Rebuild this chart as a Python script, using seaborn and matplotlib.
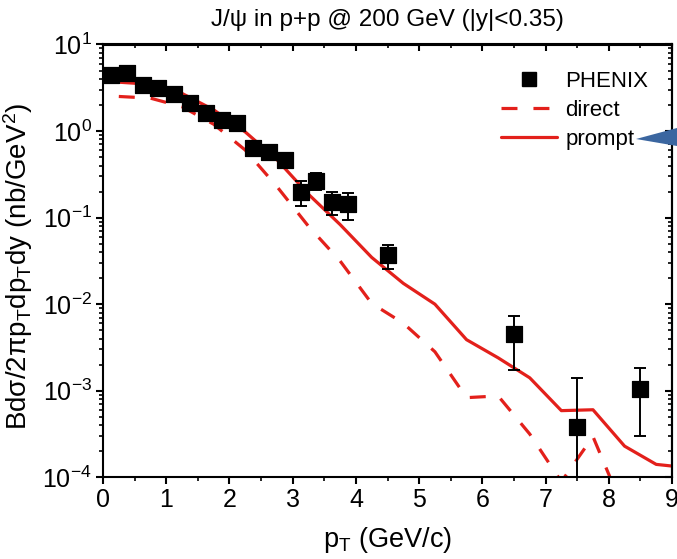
import numpy as np
import pandas as pd
import matplotlib
matplotlib.use("Agg")
import matplotlib.pyplot as plt
import seaborn as sns
from matplotlib.patches import Polygon
from matplotlib.lines import Line2D
from matplotlib.ticker import LogLocator, MultipleLocator, NullFormatter

# ---- data ----
pt_phenix = [0.125, 0.375, 0.625, 0.875, 1.125, 1.375, 1.625, 1.875, 2.125, 2.375,
             2.625, 2.875, 3.125, 3.375, 3.625, 3.875, 4.5, 6.5, 7.5, 8.5]
xs_phenix = [4.50, 4.66, 3.45, 3.17, 2.70, 2.13, 1.60, 1.36, 1.24, 0.632,
             0.578, 0.463, 0.200, 0.267, 0.153, 0.143, 0.0368, 0.00454, 3.86e-4, 1.06e-3]
err_phenix = [0.35, 0.35, 0.26, 0.24, 0.2, 0.16, 0.12, 0.1, 0.09, 0.05,
              0.045, 0.04, 0.064, 0.06, 0.047, 0.05, 0.0116, 0.0028, 1.01e-3, 0.76e-3]

pt_direct = [0.25, 0.75, 1.25, 1.75, 2.25, 2.75, 3.25, 3.75, 4.25, 4.75,
             5.25, 5.75, 6.25, 6.75, 7.25, 7.75, 8.25]
xs_direct = [2.51, 2.40, 1.91, 1.20, 0.603, 0.229, 0.0794, 0.0316, 0.0102, 0.00603,
             0.00282, 8.32e-4, 8.71e-4, 3.16e-4, 8.9e-5, 2.95e-4, 3.98e-5]

pt_prompt = [0.25, 0.75, 1.25, 1.75, 2.25, 2.75, 3.25, 3.75, 4.25, 4.75,
             5.25, 5.75, 6.25, 6.75, 7.25, 7.75, 8.25, 8.75, 9.25]
xs_prompt = [3.67, 3.47, 2.72, 1.76, 0.977, 0.468, 0.186, 0.0832, 0.0347, 0.0174,
             0.0100, 0.00389, 0.00240, 0.00141, 5.89e-4, 6.03e-4, 2.29e-4, 1.41e-4, 1.29e-4]

title = "J/\u03c8 in p+p @ 200 GeV (|y|<0.35)"
xlabel = "p$_T$ (GeV/c)"
ylabel = "Bd\u03c3/2\u03c0p$_T$dp$_T$dy (nb/GeV$^2$)"
legend_labels = ["PHENIX", "direct", "prompt"]

RED = "#e3201b"

sns.set_theme(style="ticks")
plt.rcParams['font.family'] = ['Liberation Sans', 'DejaVu Sans']
plt.rcParams['mathtext.default'] = 'regular'
for key in ["text.color", "axes.labelcolor", "xtick.color", "ytick.color",
            "axes.edgecolor"]:
    plt.rcParams[key] = "black"

W, H = 677, 559
fig = plt.figure(figsize=(W / 100, H / 100), dpi=100)
x0, x1, ytop, ybot = 103, 672, 44.5, 477.3
ax = fig.add_axes([x0 / W, 1 - ybot / H, (x1 - x0) / W, (ybot - ytop) / H])

df_dir = pd.DataFrame({"pt": pt_direct, "xs": xs_direct})
df_pro = pd.DataFrame({"pt": pt_prompt, "xs": xs_prompt})
df_ph = pd.DataFrame({"pt": pt_phenix, "xs": xs_phenix, "err": err_phenix})

sns.lineplot(data=df_dir, x="pt", y="xs", ax=ax, color=RED, lw=2.3,
             linestyle=(0, (5, 5)), sort=False, estimator=None)
sns.lineplot(data=df_pro, x="pt", y="xs", ax=ax, color=RED, lw=2.3,
             sort=False, estimator=None)
ax.errorbar(df_ph["pt"], df_ph["xs"], yerr=df_ph["err"], fmt="none",
            ecolor="black", elinewidth=1.4, capsize=4.5, capthick=1.4, zorder=4)
sns.scatterplot(data=df_ph, x="pt", y="xs", ax=ax, marker="s", s=120,
                color="black", edgecolor="black", zorder=5)

ax.set_yscale("log")
ax.set_xlim(0, 9)
ax.set_ylim(1e-4, 10)
ax.xaxis.set_major_locator(MultipleLocator(1))
ax.xaxis.set_minor_locator(MultipleLocator(0.5))
ax.yaxis.set_major_locator(LogLocator(base=10, numticks=10))
ax.yaxis.set_minor_locator(LogLocator(base=10, subs=np.arange(2, 10), numticks=10))
ax.yaxis.set_minor_formatter(NullFormatter())

for s in ax.spines.values():
    s.set_linewidth(1.5)
    s.set_visible(True)
    s.set_color("black")
ax.tick_params(which="major", direction="out", length=5, width=1.5,
               labelsize=18, pad=3, colors="black")
ax.tick_params(which="minor", direction="out", length=3, width=1.2, colors="black")

secx = ax.secondary_xaxis("top")
secx.xaxis.set_major_locator(MultipleLocator(1))
secx.xaxis.set_minor_locator(MultipleLocator(0.5))
secx.tick_params(which="major", direction="in", length=5, width=1.5, labeltop=False)
secx.tick_params(which="minor", direction="in", length=3, width=1.2)
secx.spines["top"].set_linewidth(1.5)

secy = ax.secondary_yaxis("right")
secy.yaxis.set_major_locator(LogLocator(base=10, numticks=10))
secy.yaxis.set_minor_locator(LogLocator(base=10, subs=np.arange(2, 10), numticks=10))
secy.tick_params(which="major", direction="in", length=5, width=1.5, labelright=False)
secy.tick_params(which="minor", direction="in", length=3, width=1.2, labelright=False)
secy.spines["right"].set_linewidth(1.5)

ax.set_title(title, fontsize=17.5, pad=13)
ax.set_xlabel(xlabel, fontsize=19.5, labelpad=9)
ax.set_ylabel(ylabel, fontsize=20)
ax.yaxis.set_label_coords(-0.12, 0.487)

handles = [
    Line2D([], [], marker="s", color="black", linestyle="none", markersize=10),
    Line2D([], [], color=RED, lw=2.3, linestyle=(0, (5, 5))),
    Line2D([], [], color=RED, lw=2.3),
]
ax.legend(handles, legend_labels, loc="upper left",
          bbox_to_anchor=(501 / W, 1 - 71 / H), bbox_transform=fig.transFigure,
          frameon=False, fontsize=16, handlelength=2.5, handletextpad=0.4,
          labelspacing=0.35, borderpad=0, borderaxespad=0)

arrow = Polygon([(636 / W, 1 - 139 / H), (W / W, 1 - 128 / H), (W / W, 1 - 146 / H)],
                closed=True, transform=fig.transFigure, facecolor="#3b66a0",
                edgecolor="none", zorder=10)
fig.patches.append(arrow)

fig.savefig("out.png", dpi=100)
